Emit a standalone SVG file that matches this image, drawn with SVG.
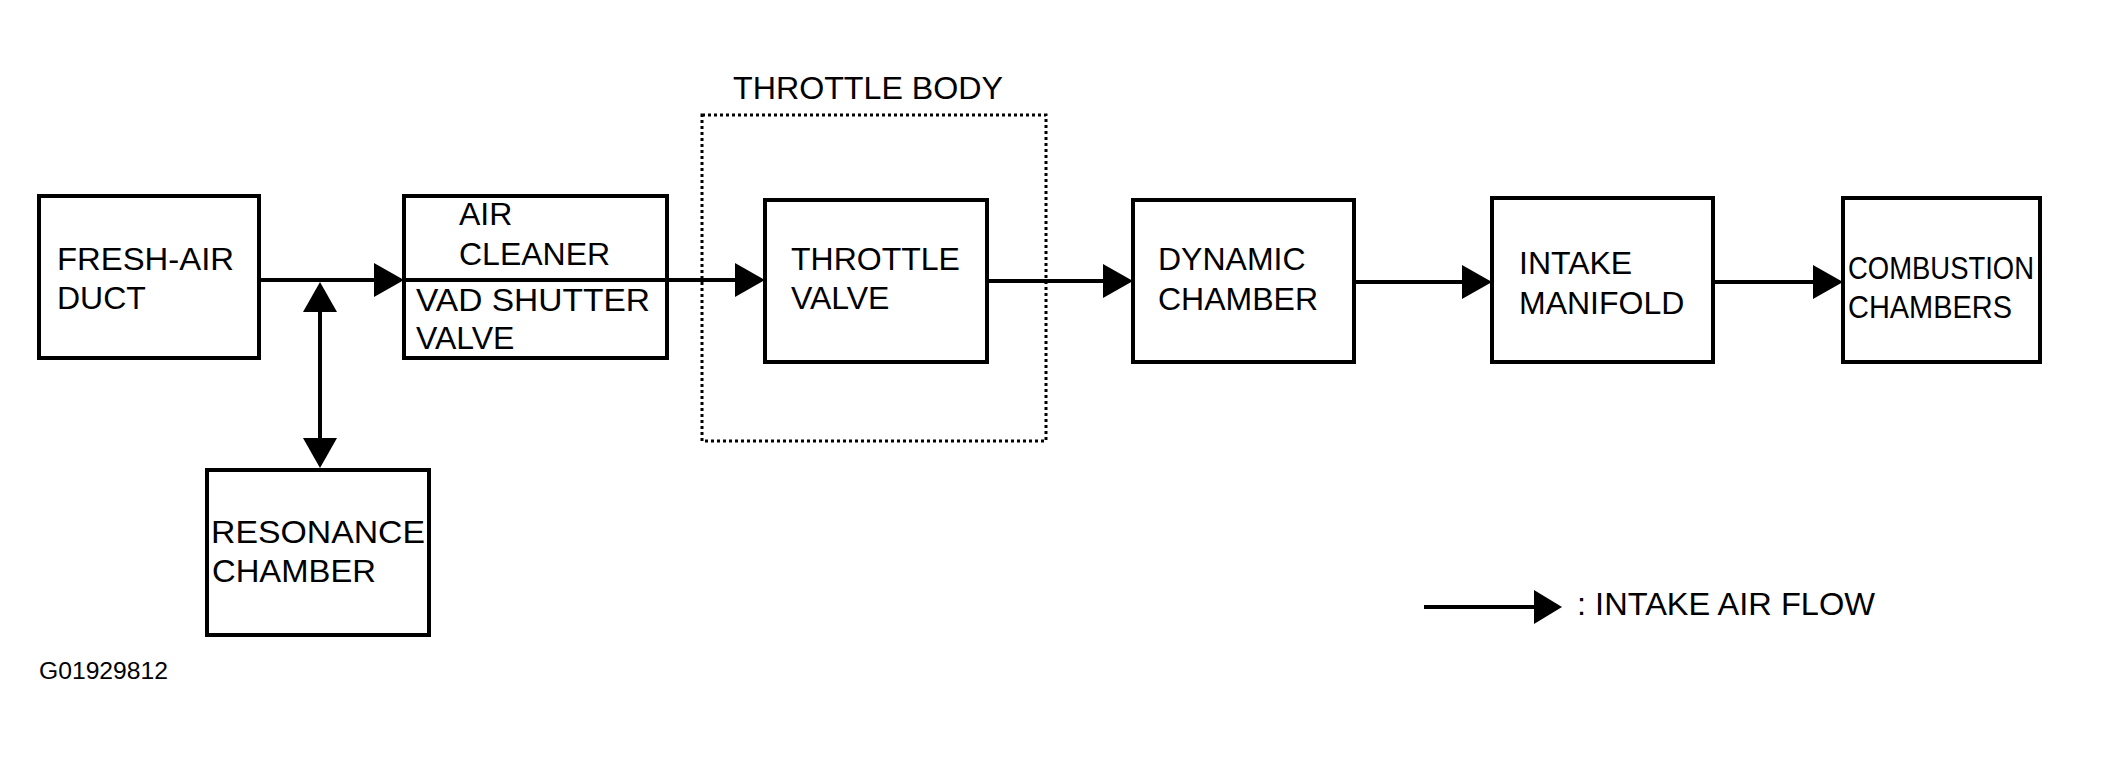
<svg xmlns="http://www.w3.org/2000/svg" width="2117" height="757" viewBox="0 0 2117 757">
<style>
.b{fill:#fff;stroke:#000;stroke-width:4}
.t{font-family:"Liberation Sans",Arial,sans-serif;font-size:32px;fill:#000}
.l{stroke:#000;stroke-width:4;fill:none}
</style>
<rect width="2117" height="757" fill="#fff"/>
<g id="connectors">
<line class="l" x1="259" y1="280" x2="376" y2="280"/>
<path d="M374,263 L404,280 L374,297 Z"/>
<line class="l" x1="404" y1="280" x2="737" y2="280"/>
<path d="M735,263 L765,280 L735,297 Z"/>
<line class="l" x1="987" y1="281" x2="1105" y2="281"/>
<path d="M1103,264 L1133,281 L1103,298 Z"/>
<line class="l" x1="1354" y1="282" x2="1464" y2="282"/>
<path d="M1462,265 L1492,282 L1462,299 Z"/>
<line class="l" x1="1713" y1="282" x2="1815" y2="282"/>
<path d="M1813,265 L1843,282 L1813,299 Z"/>
<line class="l" x1="320" y1="310" x2="320" y2="440"/>
<path d="M303,312 L320,282 L337,312 Z"/>
<path d="M303,438 L320,468 L337,438 Z"/>
<line class="l" x1="1424" y1="607" x2="1536" y2="607"/>
<path d="M1534,590 L1562,607 L1534,624 Z"/>
</g>
<g id="throttle-body">
<rect x="702" y="115" width="344" height="326" fill="none" stroke="#000" stroke-width="3" stroke-dasharray="3,3"/>
<text class="t" x="733" y="99" textLength="270" lengthAdjust="spacingAndGlyphs">THROTTLE BODY</text>
</g>
<g id="fresh-air-duct"><rect class="b" x="39" y="196" width="220" height="162"/>
<text class="t" x="57" y="270" textLength="177" lengthAdjust="spacingAndGlyphs">FRESH-AIR</text><text class="t" x="57" y="309">DUCT</text></g>
<g id="air-cleaner"><rect class="b" x="404" y="196" width="263" height="162"/>
<text class="t" x="459" y="225">AIR</text><text class="t" x="459" y="265">CLEANER</text>
<text class="t" x="416" y="311" textLength="234" lengthAdjust="spacingAndGlyphs">VAD SHUTTER</text><text class="t" x="416" y="349">VALVE</text></g>
<line class="l" x1="404" y1="280" x2="667" y2="280"/>
<g id="throttle-valve"><rect class="b" x="765" y="200" width="222" height="162"/>
<text class="t" x="791" y="270">THROTTLE</text><text class="t" x="791" y="309">VALVE</text></g>
<g id="dynamic-chamber"><rect class="b" x="1133" y="200" width="221" height="162"/>
<text class="t" x="1158" y="270">DYNAMIC</text><text class="t" x="1158" y="310">CHAMBER</text></g>
<g id="intake-manifold"><rect class="b" x="1492" y="198" width="221" height="164"/>
<text class="t" x="1519" y="274">INTAKE</text><text class="t" x="1519" y="314">MANIFOLD</text></g>
<g id="combustion-chambers"><rect class="b" x="1843" y="198" width="197" height="164"/>
<text class="t" x="1848" y="279" textLength="186" lengthAdjust="spacingAndGlyphs">COMBUSTION</text><text class="t" x="1848" y="318" textLength="164" lengthAdjust="spacingAndGlyphs">CHAMBERS</text></g>
<g id="resonance-chamber"><rect class="b" x="207" y="470" width="222" height="165"/>
<text class="t" x="211" y="543" textLength="214" lengthAdjust="spacingAndGlyphs">RESONANCE</text><text class="t" x="212" y="582" textLength="164" lengthAdjust="spacingAndGlyphs">CHAMBER</text></g>
<text class="t" x="1577" y="615" textLength="298" lengthAdjust="spacingAndGlyphs">: INTAKE AIR FLOW</text>
<text class="t" x="39" y="679" style="font-size:23px" textLength="129" lengthAdjust="spacingAndGlyphs">G01929812</text>
</svg>
